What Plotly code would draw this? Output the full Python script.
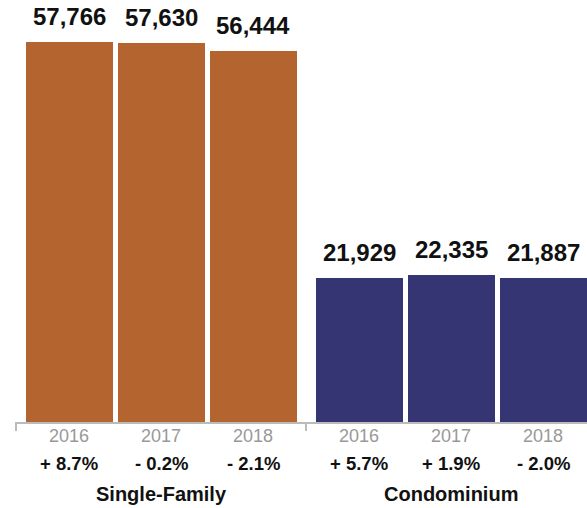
import plotly.graph_objects as go

# Data
groups = ["Single-Family", "Condominium"]
years = ["2016", "2017", "2018"]
single_family = [57766, 57630, 56444]
condominium = [21929, 22335, 21887]
pct_single_family = ["+ 8.7%", "- 0.2%", "- 2.1%"]
pct_condominium = ["+ 5.7%", "+ 1.9%", "- 2.0%"]

colors = ["#b4642f", "#363574"]
series = [single_family, condominium]
pcts = [pct_single_family, pct_condominium]

# Layout of bars within each group (x units: one group = 1.0)
step = 92 / 290
bar_w = 87 / 290
FONT = "Liberation Sans, Arial, Helvetica, sans-serif"

fig = go.Figure()
annotations = []
for g, (name, vals, col, pc) in enumerate(zip(groups, series, colors, pcts)):
    xs = [g + (i - 1) * step for i in range(len(vals))]
    fig.add_trace(go.Bar(
        x=xs, y=vals, width=bar_w, marker=dict(color=col, line=dict(width=0)),
        hoverinfo="skip", showlegend=False,
    ))
    for x, v, yr, p in zip(xs, vals, years, pc):
        annotations.append(dict(
            x=x, y=v, xref="x", yref="y", text=f"<b>{v:,}</b>",
            showarrow=False, yanchor="bottom", yshift=10,
            font=dict(family=FONT, size=24, color="#111"),
        ))
        annotations.append(dict(
            x=x, y=0, xref="x", yref="y", text=yr, showarrow=False,
            yanchor="middle", yshift=-14,
            font=dict(family=FONT, size=18, color="#999"),
        ))
        annotations.append(dict(
            x=x, y=0, xref="x", yref="y", text=f"<b>{p}</b>", showarrow=False,
            yanchor="middle", yshift=-41,
            font=dict(family=FONT, size=18.5, color="#111"),
        ))
    annotations.append(dict(
        x=g, y=0, xref="x", yref="y", text=f"<b>{name}</b>", showarrow=False,
        yanchor="middle", yshift=-72,
        font=dict(family=FONT, size=20, color="#111"),
    ))

fig.update_layout(
    width=587, height=508,
    margin=dict(l=15, r=0, t=0, b=86),
    plot_bgcolor="white", paper_bgcolor="white",
    bargap=0,
    annotations=annotations,
    xaxis=dict(
        range=[-146 / 290, (587 - 161) / 290],
        showgrid=False, zeroline=False,
        showline=True, linecolor="#bbbbbb", linewidth=2,
        ticks="outside", tickvals=[-0.5, 0.5, 1.5], ticktext=["", "", ""],
        ticklen=7, tickwidth=2, tickcolor="#bbbbbb",
        fixedrange=True,
    ),
    yaxis=dict(
        range=[0, 57766 * 421.5 / 379.5],
        visible=False, showgrid=False, zeroline=False, fixedrange=True,
    ),
)

fig.write_html("out.html")
